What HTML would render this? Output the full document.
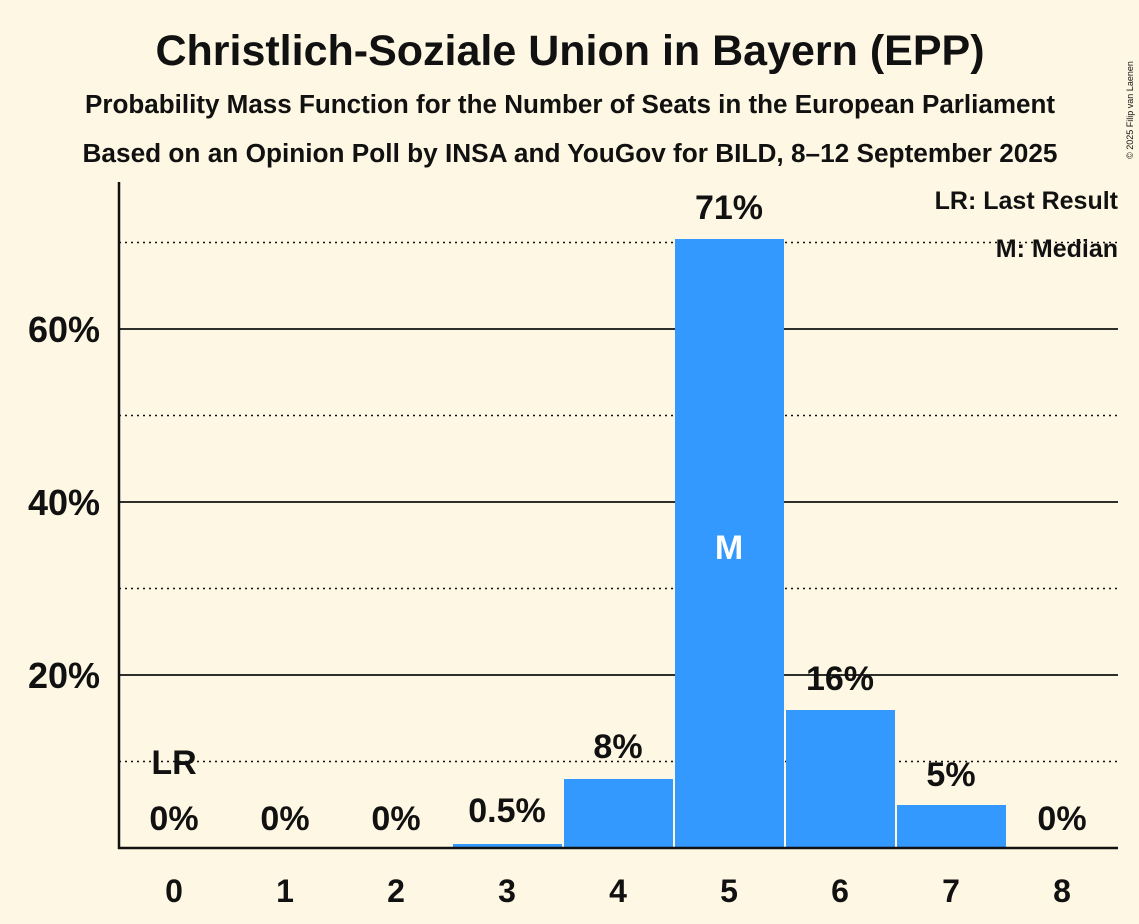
<!DOCTYPE html>
<html><head><meta charset="utf-8"><style>
body{margin:0;background:#fdf7e3;}
svg{display:block;font-family:"Liberation Sans",sans-serif;font-weight:bold;fill:#111;}
</style></head><body>
<svg width="1139" height="924" viewBox="0 0 1139 924">
<rect width="1139" height="924" fill="#fdf7e3"/>
<text x="570" y="65" font-size="43" text-anchor="middle">Christlich-Soziale Union in Bayern (EPP)</text>
<text x="570" y="113" font-size="25.5" text-anchor="middle" textLength="970" lengthAdjust="spacingAndGlyphs">Probability Mass Function for the Number of Seats in the European Parliament</text>
<text x="570" y="162" font-size="25.5" text-anchor="middle" textLength="975" lengthAdjust="spacingAndGlyphs">Based on an Opinion Poll by INSA and YouGov for BILD, 8–12 September 2025</text>
<text x="1133" y="110" font-size="9" font-weight="normal" transform="rotate(-90 1133 110)" text-anchor="middle">© 2025 Filip van Laenen</text>
<g stroke="#111" stroke-width="1.5" stroke-dasharray="2,4">
<line x1="119" y1="761.5" x2="1118" y2="761.5"/>
<line x1="119" y1="588.5" x2="1118" y2="588.5"/>
<line x1="119" y1="415.5" x2="1118" y2="415.5"/>
<line x1="119" y1="242.5" x2="1118" y2="242.5"/>
</g>
<g stroke="#111" stroke-width="1.8">
<line x1="119" y1="675" x2="1118" y2="675"/>
<line x1="119" y1="502" x2="1118" y2="502"/>
<line x1="119" y1="329" x2="1118" y2="329"/>
</g>
<g fill="#3399ff">
<rect x="453" y="844" width="109" height="4"/>
<rect x="564" y="779" width="109" height="69"/>
<rect x="675" y="239" width="109" height="609"/>
<rect x="786" y="710" width="109" height="138"/>
<rect x="897" y="805" width="109" height="43"/>
</g>
<line x1="119" y1="182" x2="119" y2="849" stroke="#111" stroke-width="2.5"/>
<line x1="118" y1="848" x2="1118" y2="848" stroke="#111" stroke-width="2.5"/>
<g font-size="36" text-anchor="end">
<text x="100" y="688">20%</text>
<text x="100" y="515">40%</text>
<text x="100" y="342">60%</text>
</g>
<g font-size="32" text-anchor="middle">
<text x="174" y="902">0</text><text x="285" y="902">1</text><text x="396" y="902">2</text><text x="507" y="902">3</text><text x="618" y="902">4</text><text x="729" y="902">5</text><text x="840" y="902">6</text><text x="951" y="902">7</text><text x="1062" y="902">8</text>
</g>
<g font-size="34" text-anchor="middle">
<text x="174" y="830">0%</text><text x="285" y="830">0%</text><text x="396" y="830">0%</text><text x="507" y="822">0.5%</text><text x="618" y="758">8%</text><text x="729" y="219">71%</text><text x="840" y="690">16%</text><text x="951" y="786">5%</text><text x="1062" y="830">0%</text>
<text x="174" y="774">LR</text>
<text x="729" y="559" fill="#fff">M</text>
</g>
<g font-size="25" text-anchor="end">
<text x="1118" y="209">LR: Last Result</text>
<text x="1118" y="257">M: Median</text>
</g>
</svg>
</body></html>
